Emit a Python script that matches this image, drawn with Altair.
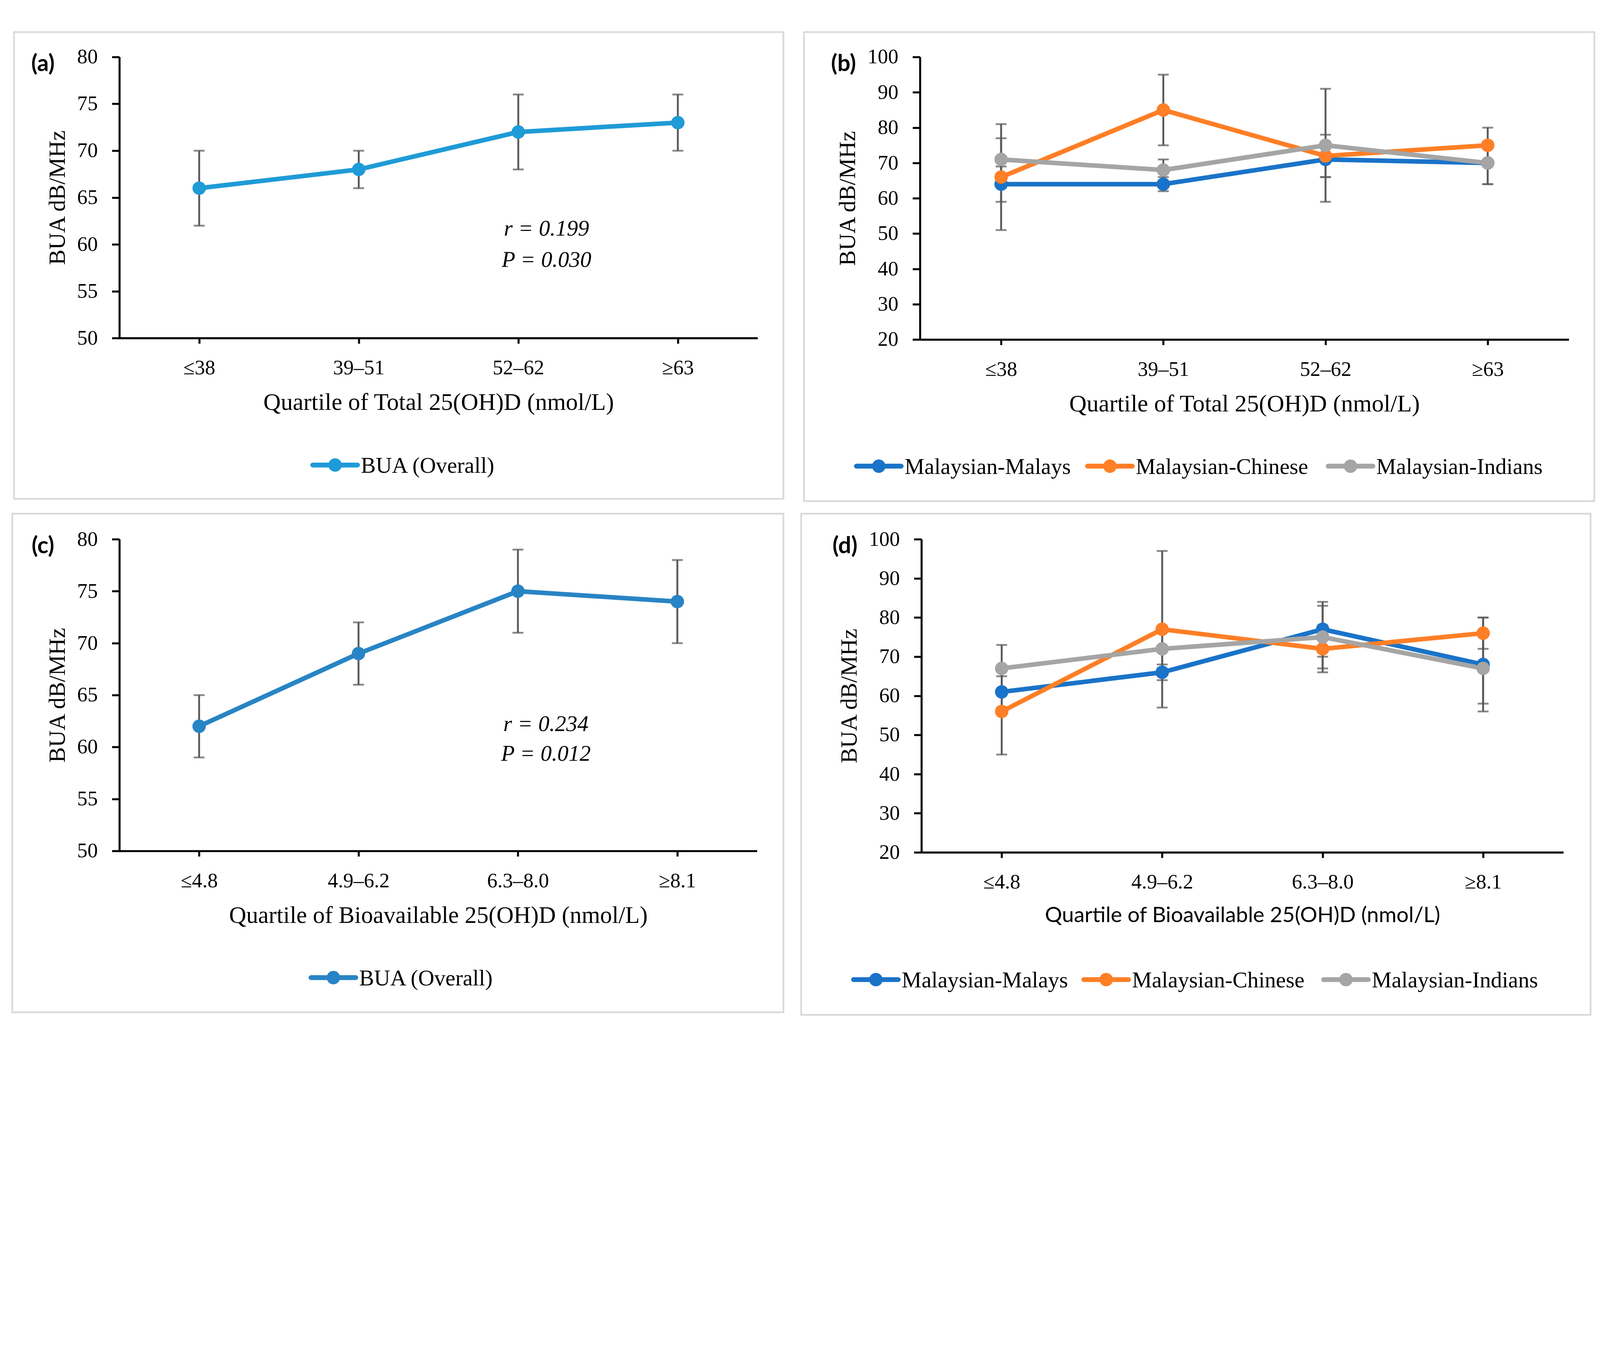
import altair as alt
import pandas as pd

# ---------------- data ----------------
cats_total = ["≤38", "39–51", "52–62", "≥63"]
cats_bio = ["≤4.8", "4.9–6.2", "6.3–8.0", "≥8.1"]

overall_name = ["BUA (Overall)"]

# (a) total 25(OH)D, overall
a_mean = [66, 68, 72, 73]
a_lo = [62, 66, 68, 70]
a_hi = [70, 70, 76, 76]

# (c) bioavailable 25(OH)D, overall
c_mean = [62, 69, 75, 74]
c_lo = [59, 66, 71, 70]
c_hi = [65, 72, 79, 78]

groups = ["Malaysian-Malays", "Malaysian-Chinese", "Malaysian-Indians"]

# (b) total 25(OH)D by ethnicity
b_malays_mean = [64, 64, 71, 70]
b_malays_lo = [59, 62, 66, 64]
b_malays_hi = [69, 66, 76, 76]
b_chinese_mean = [66, 85, 72, 75]
b_chinese_lo = [51, 75, 66, 70]
b_chinese_hi = [81, 95, 78, 80]
b_indians_mean = [71, 68, 75, 70]
b_indians_lo = [65, 65, 59, 64]
b_indians_hi = [77, 71, 91, 76]

# (d) bioavailable 25(OH)D by ethnicity
d_malays_mean = [61, 66, 77, 68]
d_malays_lo = [57, 64, 70, 56]
d_malays_hi = [65, 68, 84, 80]
d_chinese_mean = [56, 77, 72, 76]
d_chinese_lo = [45, 57, 66, 72]
d_chinese_hi = [67, 97, 78, 80]
d_indians_mean = [67, 72, 75, 67]
d_indians_lo = [61, 67, 67, 58]
d_indians_hi = [73, 77, 83, 76]

ann_a = ["r = 0.199", "P = 0.030"]
ann_c = ["r = 0.234", "P = 0.012"]

yticks_ac = [50, 55, 60, 65, 70, 75, 80]
yticks_bd = [20, 30, 40, 50, 60, 70, 80, 90, 100]

# ---------------- styles ----------------
SERIF = "Liberation Serif"
SANS = "Lato"
ERR = "#595959"
FRAME = "#D9D9D9"
ETH_COLORS = ["#1A73C8", "#FE7F26", "#A5A5A5"]
one = pd.DataFrame({"k": [0]})


def build_df(cats, names, means, los, his):
    rows = []
    for s, m, lo, hi in zip(names, means, los, his):
        for c, mv, lv, hv in zip(cats, m, lo, hi):
            rows.append({"series": s, "cat": c, "mean": mv, "lo": lv, "hi": hv})
    return pd.DataFrame(rows)


def legend_layers(names, colors, x0s, ly):
    out = []
    for n, col, x0 in zip(names, colors, x0s):
        out.append(alt.Chart(one).mark_rule(color=col, strokeWidth=17, strokeCap="round").encode(
            x=alt.value(x0 + 8), x2=alt.value(x0 + 164), y=alt.value(ly)))
        out.append(alt.Chart(one).mark_point(filled=True, size=2200, opacity=1, color=col).encode(
            x=alt.value(x0 + 86), y=alt.value(ly)))
        out.append(alt.Chart(one).mark_text(font=SERIF, fontSize=78, color="black",
                                            align="left", baseline="middle").encode(
            x=alt.value(x0 + 176), y=alt.value(ly + 4), text=alt.value(n)))
    return out


def panel(cats, names, colors, means, los, his, ydom, yvals, W, H, frame,
          label, xtitle, xtitle_font, xtitle_size, leg_x0s, leg_y, ann=None, annxy=None):
    L, T, R, B = frame
    df = build_df(cats, names, means, los, his)

    xaxis = alt.Axis(title=xtitle, labelAngle=0, labelFont=SERIF, labelFontSize=72,
                     labelColor="black", labelPadding=50, labelLimit=1000, tickSize=19,
                     tickWidth=7, tickColor="black", domainColor="black", domainWidth=7,
                     titleFont=xtitle_font, titleFontSize=xtitle_size, titleLimit=3000,
                     titleFontWeight="normal", titleColor="black", titlePadding=44,
                     grid=False)
    yaxis = alt.Axis(title="BUA dB/MHz", values=yvals, labelFont=SERIF, labelFontSize=72,
                     labelColor="black", labelPadding=50, labelLimit=1000, tickSize=26,
                     tickWidth=7, tickColor="black", domainColor="black", domainWidth=7,
                     titleFont=SERIF, titleFontSize=81, titleFontWeight="normal",
                     titleColor="black", titlePadding=26, grid=False)
    xenc = alt.X("cat:N", sort=cats, scale=alt.Scale(type="point", padding=0.5), axis=xaxis)
    yscale = alt.Scale(domain=ydom, nice=False, zero=False)
    cscale = alt.Scale(domain=names, range=colors)

    base = alt.Chart(df)
    rule = base.mark_rule(color=ERR, strokeWidth=6.5).encode(
        x=xenc, y=alt.Y("lo:Q", scale=yscale, axis=yaxis), y2="hi:Q")
    cap_lo = base.mark_tick(color=ERR, size=38, thickness=6.5, orient="horizontal").encode(
        x=xenc, y=alt.Y("lo:Q", scale=yscale, axis=yaxis))
    cap_hi = base.mark_tick(color=ERR, size=38, thickness=6.5, orient="horizontal").encode(
        x=xenc, y=alt.Y("hi:Q", scale=yscale, axis=yaxis))
    line = base.mark_line(strokeWidth=16, strokeJoin="round", strokeCap="round").encode(
        x=xenc, y=alt.Y("mean:Q", scale=yscale, axis=yaxis),
        color=alt.Color("series:N", scale=cscale, legend=None))
    pts = base.mark_point(filled=True, size=2200, opacity=1).encode(
        x=xenc, y=alt.Y("mean:Q", scale=yscale, axis=yaxis),
        color=alt.Color("series:N", scale=cscale, legend=None))
    frame_rect = alt.Chart(one).mark_rect(fill="transparent", stroke=FRAME, strokeWidth=6).encode(
        x=alt.value(-L), x2=alt.value(W + R), y=alt.value(-T), y2=alt.value(H + B))
    lab = alt.Chart(one).mark_text(font=SANS, fontSize=80, fontWeight="bold", color="black",
                                   align="center", baseline="middle").encode(
        x=alt.value(-267), y=alt.value(25), text=alt.value(label))
    layers = [frame_rect, rule, cap_lo, cap_hi, line, pts, lab]
    layers += legend_layers(names, colors, leg_x0s, leg_y)
    if ann:
        for t, (ax, ay) in zip(ann, annxy):
            layers.append(alt.Chart(one).mark_text(font=SERIF, fontSize=78, fontStyle="italic",
                                                   color="black", align="center",
                                                   baseline="middle").encode(
                x=alt.value(ax), y=alt.value(ay), text=alt.value(t)))
    return alt.layer(*layers).properties(width=W, height=H)


pa = panel(cats_total, overall_name, ["#1F9BD7"], [a_mean], [a_lo], [a_hi],
           [50, 80], yticks_ac, 2228, 981, (368, 87, 90, 561), "(a)",
           "Quartile of Total 25(OH)D (nmol/L)", SERIF, 84, [667], 1424,
           ann_a, [(1491, 600), (1491, 709)])
pb = panel(cats_total, groups, ETH_COLORS,
           [b_malays_mean, b_chinese_mean, b_indians_mean],
           [b_malays_lo, b_chinese_lo, b_indians_lo],
           [b_malays_hi, b_chinese_hi, b_indians_hi],
           [20, 100], yticks_bd, 2265, 986, (405, 87, 89, 564), "(b)",
           "Quartile of Total 25(OH)D (nmol/L)", SERIF, 84, [-230, 577, 1417], 1428)
pc = panel(cats_bio, overall_name, ["#2884C4"], [c_mean], [c_lo], [c_hi],
           [50, 80], yticks_ac, 2226, 1088, (374, 89, 92, 563), "(c)",
           "Quartile of Bioavailable 25(OH)D (nmol/L)", SERIF, 83, [661], 1530,
           ann_c, [(1489, 647), (1489, 750)])
pd_ = panel(cats_bio, groups, ETH_COLORS,
            [d_malays_mean, d_chinese_mean, d_indians_mean],
            [d_malays_lo, d_chinese_lo, d_indians_lo],
            [d_malays_hi, d_chinese_hi, d_indians_hi],
            [20, 100], yticks_bd, 2241, 1093, (420, 89, 95, 567), "(d)",
            "Quartile of Bioavailable 25(OH)D (nmol/L)", SANS, 75, [-245, 559, 1396], 1537)

row1 = alt.hconcat(pa, pb, spacing=64).resolve_scale(color="independent")
row2 = alt.hconcat(pc, pd_, spacing=54).resolve_scale(color="independent")
chart = (alt.vconcat(row1, row2, spacing=36)
         .resolve_scale(color="independent")
         .configure(padding={"left": 28, "top": -385, "right": 5, "bottom": -402},
                    background="white")
         .configure_view(stroke="transparent"))

chart.save("out.html", embed_options={"renderer": "svg", "actions": False})
